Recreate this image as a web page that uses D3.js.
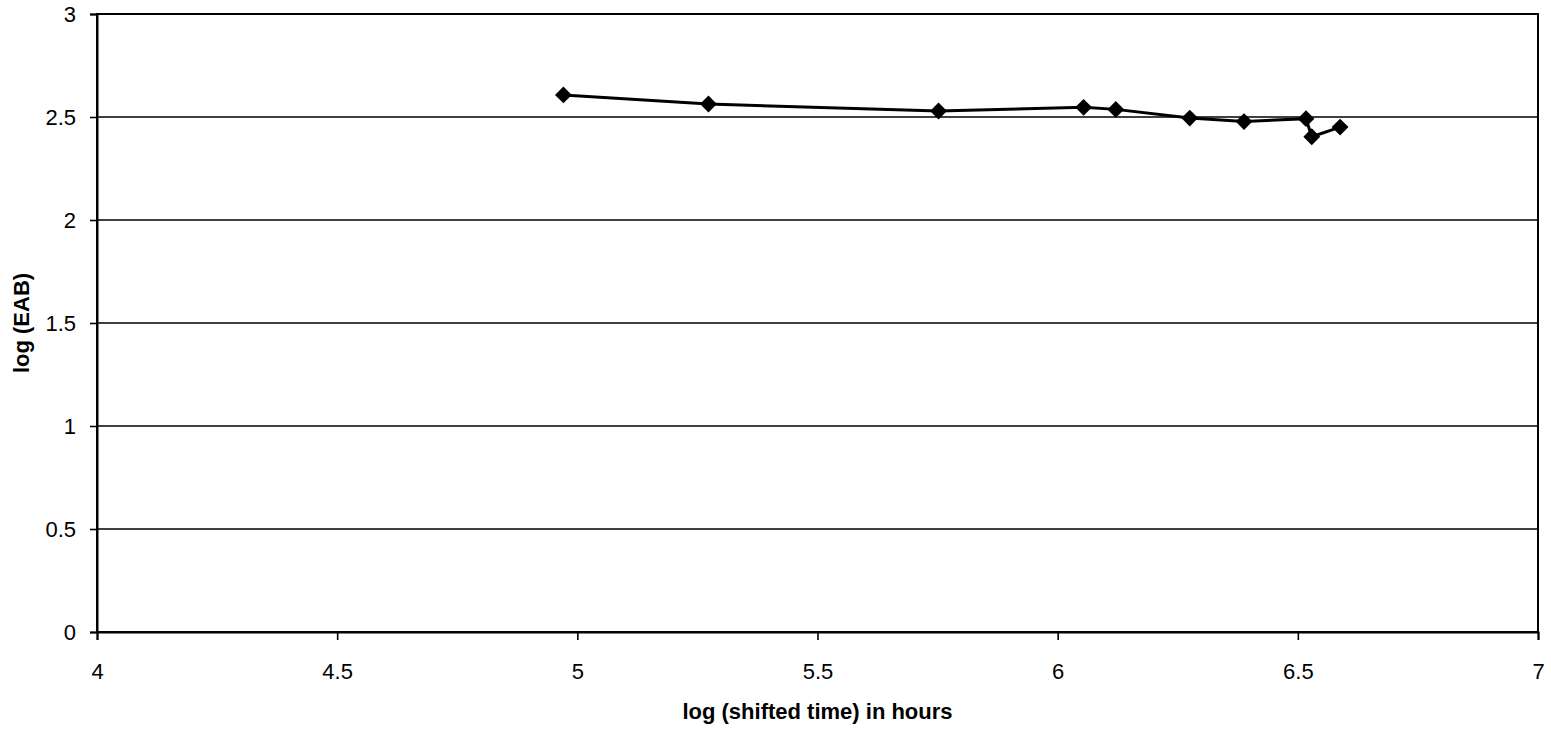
<!DOCTYPE html>
<html lang="en">
<head>
<meta charset="utf-8">
<title>log (EAB) vs log (shifted time)</title>
<script src="https://d3js.org/d3.v7.min.js"></script>
<style>
  body { margin: 0; background: #fff; }
  .title { font-family: "Liberation Sans", Arial, sans-serif; font-size: 22px; font-weight: bold; }
</style>
</head>
<body>
<script>
// data
const logTime = [4.971, 5.273, 5.752, 6.054, 6.121, 6.275, 6.388, 6.517, 6.529, 6.588];
const logEAB  = [2.607, 2.563, 2.529, 2.547, 2.537, 2.495, 2.478, 2.492, 2.404, 2.451];
const xTicks = [4, 4.5, 5, 5.5, 6, 6.5, 7];
const yTicks = [0, 0.5, 1, 1.5, 2, 2.5, 3];

const w = 1551, h = 732;
const margin = {top: 14, right: 13, bottom: 100, left: 97};

const svg = d3.select("body").append("svg")
  .attr("width", w)
  .attr("height", h);

const x = d3.scaleLinear().domain([4, 7]).range([margin.left, w - margin.right]);
const y = d3.scaleLinear().domain([0, 3]).range([h - margin.bottom, margin.top]);

// gridlines
svg.append("g")
  .selectAll("line")
  .data(yTicks.filter(d => d > 0 && d < 3))
  .join("line")
  .attr("x1", x(4)).attr("x2", x(7))
  .attr("y1", d => y(d)).attr("y2", d => y(d))
  .attr("stroke", "#000")
  .attr("stroke-width", 1.6);

// frame
svg.append("rect")
  .attr("x", x(4)).attr("y", y(3))
  .attr("width", x(7) - x(4)).attr("height", y(0) - y(3))
  .attr("fill", "none")
  .attr("stroke", "#000")
  .attr("stroke-width", 2);

// axes
const xAxis = svg.append("g")
  .attr("transform", "translate(0," + y(0) + ")")
  .call(d3.axisBottom(x).tickValues(xTicks).tickFormat(d3.format("")).tickSize(8).tickPadding(23));
const yAxis = svg.append("g")
  .attr("transform", "translate(" + x(4) + ",0)")
  .call(d3.axisLeft(y).tickValues(yTicks).tickFormat(d3.format("")).tickSize(7).tickPadding(14));
[xAxis, yAxis].forEach(a => {
  a.attr("font-family", "Liberation Sans, Arial, sans-serif").attr("font-size", 22);
  a.select(".domain").attr("stroke", "#000").attr("stroke-width", 2);
  a.selectAll(".tick line").attr("stroke", "#000").attr("stroke-width", 1.6);
  a.selectAll(".tick text").attr("fill", "#000");
});

// series line
const pts = logTime.map((t, i) => [t, logEAB[i]]);
svg.append("path")
  .datum(pts)
  .attr("fill", "none")
  .attr("stroke", "#000")
  .attr("stroke-width", 3)
  .attr("d", d3.line().x(d => x(d[0])).y(d => y(d[1])));

// diamond markers
svg.append("g")
  .selectAll("path")
  .data(pts)
  .join("path")
  .attr("transform", d => "translate(" + x(d[0]) + "," + y(d[1]) + ")")
  .attr("d", d3.symbol().type(d3.symbolDiamond2).size(180))
  .attr("fill", "#000");

// axis titles
svg.append("text")
  .attr("class", "title")
  .attr("x", (x(4) + x(7)) / 2)
  .attr("y", 719)
  .attr("text-anchor", "middle")
  .text("log (shifted time) in hours");

svg.append("text")
  .attr("class", "title")
  .attr("transform", "translate(29," + y(1.5) + ") rotate(-90)")
  .attr("text-anchor", "middle")
  .text("log (EAB)");
</script>
</body>
</html>
